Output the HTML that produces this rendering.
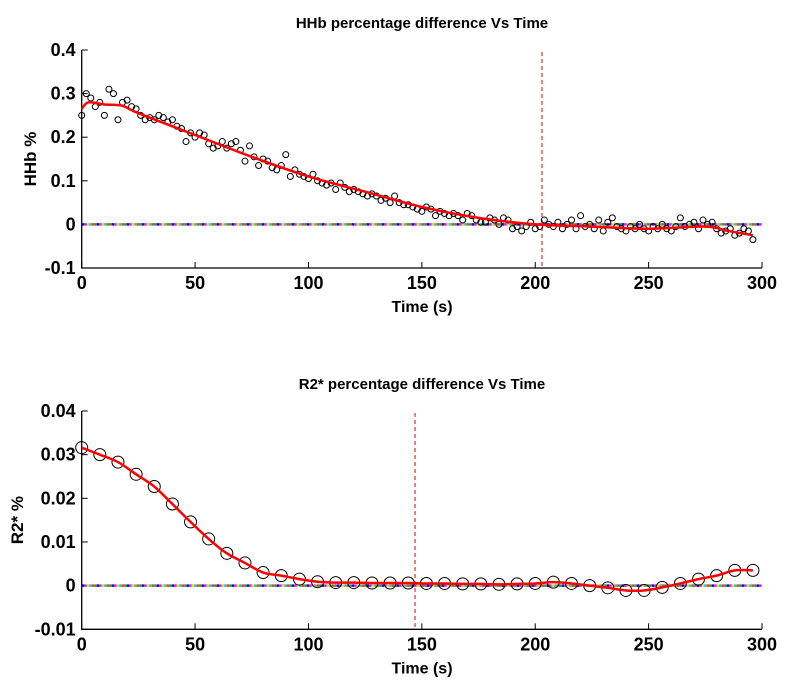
<!DOCTYPE html>
<html><head><meta charset="utf-8"><style>
body{margin:0;background:#fff;}
svg text{font-family:"Liberation Sans",Arial,sans-serif;font-weight:bold;fill:#000;}
</style></head><body>
<svg id="c" width="808" height="689" xmlns="http://www.w3.org/2000/svg"></svg>
<script>
const topTimes=[];for(let t=0;t<=296;t+=2)topTimes.push(t);
const topValues=[.25,.30,.29,.27,.28,.25,.31,.30,.24,.28,.285,.27,.265,.25,.24,.245,.24,.25,.245,.235,.24,.225,.22,.19,.21,.20,.21,.205,.185,.175,.18,.19,.175,.185,.19,.17,.145,.18,.155,.135,.15,.145,.13,.125,.135,.16,.11,.125,.115,.11,.105,.115,.10,.095,.09,.095,.08,.095,.085,.075,.08,.075,.07,.065,.07,.065,.055,.06,.05,.065,.05,.045,.045,.04,.035,.03,.04,.035,.02,.03,.025,.02,.025,.02,.01,.025,.02,.01,.005,.005,.015,.01,0,.015,.01,-.01,-.005,-.015,-.005,.005,-.01,-.005,.01,0,-.005,.005,-.01,0,.01,-.01,.02,-.005,0,-.01,.01,-.015,.005,.015,-.005,-.01,-.015,-.005,-.01,0,-.01,-.015,-.005,-.01,0,-.01,-.015,-.005,.015,-.005,0,.005,-.01,.01,0,.005,-.01,-.02,-.015,-.01,-.025,-.02,-.01,-.015,-.035];
const topFitT=[0,3,10,18,25,50,75,100,125,150,175,200,225,250,275,285,296];
const topFitV=[.265,.28,.275,.272,.255,.205,.155,.11,.075,.04,.015,0,-.005,-.01,-.005,-.015,-.025];
const botTimes=[];for(let t=0;t<=296;t+=8)botTimes.push(t);
const botValues=[.0316,.030,.0283,.0255,.0227,.0187,.0146,.0107,.0074,.0052,.0030,.0023,.0015,.0009,.0007,.0007,.0006,.0006,.0006,.0005,.0005,.0004,.0004,.0003,.0004,.0005,.0008,.0005,0,-.0005,-.0011,-.0011,-.0004,.0005,.0015,.0023,.0035,.0035];
const topYTicks=[0.4,0.3,0.2,0.1,0,-0.1];const topYLabels=["0.4","0.3","0.2","0.1","0","-0.1"];
const botYTicks=[0.04,0.03,0.02,0.01,0,-0.01];const botYLabels=["0.04","0.03","0.02","0.01","0","-0.01"];
const xTicks=[0,50,100,150,200,250,300];
const topMarker=203, botMarker=147;

const NS="http://www.w3.org/2000/svg",svg=document.getElementById('c');
function mk(tag,a,p){const e=document.createElementNS(NS,tag);for(const k in a)e.setAttribute(k,a[k]);(p||svg).appendChild(e);return e;}
const X0=81.7,X1=762;
const sx=t=>X0+(t/300)*(X1-X0);
function smooth(pts){let d=`M${pts[0][0]},${pts[0][1]}`;for(let i=0;i<pts.length-1;i++){const p0=pts[Math.max(0,i-1)],p1=pts[i],p2=pts[i+1],p3=pts[Math.min(pts.length-1,i+2)];d+=` C${p1[0]+(p2[0]-p0[0])/6},${p1[1]+(p2[1]-p0[1])/6} ${p2[0]-(p3[0]-p1[0])/6},${p2[1]-(p3[1]-p1[1])/6} ${p2[0]},${p2[1]}`;}return d;}

function panel(name,yTop,yBot,vTop,vBot,yTicks,yLabels,title,ylab,ylx,ts,vs,r,fitT,fitV,marker){
  const sy=v=>yTop+(vTop-v)/(vTop-vBot)*(yBot-yTop);
  const g=mk('g',{});
  const tt=mk('text',{x:422,y:yTop-22,'text-anchor':'middle','font-size':15},g);tt.textContent=title;
  
  const yl=mk('text',{x:0,y:0,'text-anchor':'middle','font-size':17,transform:`translate(${ylx},${(yTop+yBot)/2}) rotate(-90)`},g);yl.textContent=ylab;
  
  const xl=mk('text',{x:422,y:yBot+44,'text-anchor':'middle','font-size':16},g);xl.textContent='Time (s)';
  
  const ax=mk('path',{d:`M${X0},${yTop} V${yBot} H${X1}`,stroke:'#000','stroke-width':1.3,fill:'none'},g);
  
  yTicks.forEach((v,i)=>{const y=sy(v);mk('line',{x1:X0,x2:X0+6,y1:y,y2:y,stroke:'#000'},g);
    const t=mk('text',{x:X0-6,y:y+6,'text-anchor':'end','font-size':18},g);t.textContent=yLabels[i];
    });
  xTicks.forEach(v=>{const x=sx(v);mk('line',{x1:x,x2:x,y1:yBot,y2:yBot-6,stroke:'#000'},g);
    const t=mk('text',{x:x,y:yBot+21,'text-anchor':'middle','font-size':18},g);t.textContent=String(v);
    });
  const y0=sy(0);const cols=['#0000ff','#ff00ff','#e0e000','#00d0d0','#ff3030','#20a020'];
  cols.forEach((c,i)=>{const l=mk('line',{x1:X0,x2:X1,y1:y0,y2:y0,stroke:c,'stroke-width':2.5,'stroke-dasharray':'2.5 12.5','stroke-dashoffset':-i*2.5},g);
    });
  const mx=sx(marker);const ml=mk('line',{x1:mx,x2:mx,y1:yTop+2,y2:yBot,stroke:'#e04040','stroke-width':1.3,'stroke-dasharray':'4 3'},g);
  
  ts.forEach((t,i)=>{const c=mk('circle',{cx:sx(t),cy:sy(vs[i]),r:r,fill:'none',stroke:'#000','stroke-width':1},g);
    });
  const fp=mk('path',{d:smooth(fitT.map((t,i)=>[sx(t),sy(fitV[i])])),stroke:'#ff0000','stroke-width':2.5,fill:'none'},g);
  
}
panel('hhb',50,268,0.4,-0.1,topYTicks,topYLabels,'HHb percentage difference Vs Time','HHb %',36,topTimes,topValues,3,topFitT,topFitV,topMarker);
panel('r2',411,629.3,0.04,-0.01,botYTicks,botYLabels,'R2* percentage difference Vs Time','R2* %',23,botTimes,botValues,6,botTimes,botValues,botMarker);
</script>
</body></html>
